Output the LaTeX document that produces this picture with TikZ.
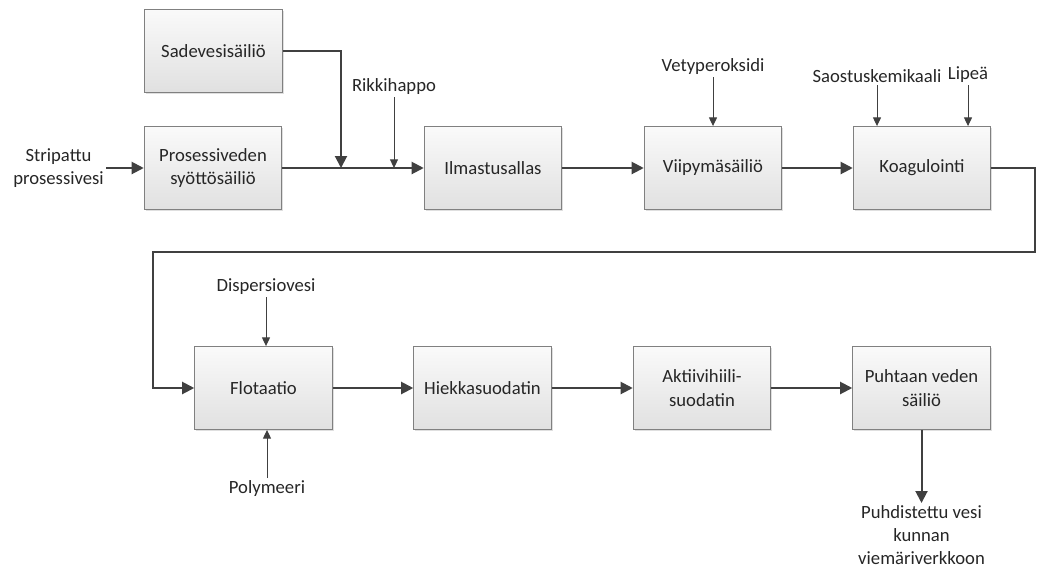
\documentclass[tikz,border=0pt]{standalone}
\usepackage{fontspec}
\setmainfont{Carlito}
\usetikzlibrary{arrows.meta,shadows}

\begin{document}
\begin{tikzpicture}[x=0.75pt, y=-0.75pt,
  box/.style={draw=black!50, line width=0.9pt, top color=black!2, bottom color=black!12,
    drop shadow={shadow xshift=1.2pt, shadow yshift=-1.2pt, opacity=0.25},
    minimum width=103pt, minimum height=62pt, align=center, inner sep=2pt,
    font=\fontsize{14}{17.5}\selectfont, text=black!85},
  lbl/.style={inner sep=1.5pt, align=center, font=\fontsize{14}{17.5}\selectfont, text=black!85},
  flow/.style={draw=black!75, line width=1.5pt, -{Triangle[length=9pt,width=9pt]}},
  feed/.style={draw=black!75, line width=0.75pt, -{Triangle[length=6.5pt,width=6pt]}}]
\useasboundingbox (0,0) rectangle (1038,572);

% upper row
\node[box] (sade) at (213.5,51) {Sadevesisäiliö};
\node[box] (syotto) at (213,168) {Prosessiveden\\syöttösäiliö};
\node[box] (ilma) at (493,168) {Ilmastusallas};
\node[box] (viipy) at (713,168) {Viipymäsäiliö};
\node[box] (koag) at (922,168) {Koagulointi};

% lower row
\node[box] (flot) at (263.5,388) {Flotaatio};
\node[box] (hiekka) at (482.5,388) {Hiekkasuodatin};
\node[box] (aktiivi) at (702,388) {Aktiivihiili-\\suodatin};
\node[box] (puhdas) at (921.5,388) {Puhtaan veden\\säiliö};

% inputs and output
\node[lbl, anchor=east] (strip) at (106,168) {Stripattu\\prosessivesi};
\node[lbl, anchor=south] (rikki) at (394,97) {Rikkihappo};
\node[lbl, anchor=south] (vety) at (713,77) {Vetyperoksidi};
\node[lbl, anchor=south] (saostus) at (877,85) {Saostuskemikaali};
\node[lbl, anchor=south] (lipea) at (968,85) {Lipeä};
\node[lbl, anchor=south] (disp) at (266,297) {Dispersiovesi};
\node[lbl, anchor=north] (poly) at (267,478) {Polymeeri};
\node[lbl, anchor=north] (puhd) at (921.5,503) {Puhdistettu vesi\\kunnan\\viemäriverkkoon};

\coordinate (liitos) at (341,168);
\coordinate (kaanto) at (1035,252);
\coordinate (paluu) at (153,252);

\draw[flow] (strip.east) -- (syotto.west);
\draw[flow] (sade.east) -| (liitos);
\foreach \a/\b in {syotto/ilma, ilma/viipy, viipy/koag, flot/hiekka, hiekka/aktiivi, aktiivi/puhdas}
{
    \draw[flow] (\a.east) -- (\b.west);
}
\draw[flow] (koag.east) -| (kaanto) -- (paluu) |- (flot.west);
\draw[flow] (puhdas.south) -- (puhd.north);

\draw[feed] (rikki.south) -- (rikki.south |- syotto.east);
\draw[feed] (vety.south) -- (vety.south |- viipy.north);
\draw[feed] (saostus.south) -- (saostus.south |- koag.north);
\draw[feed] (lipea.south) -- (lipea.south |- koag.north);
\draw[feed] (disp.south) -- (disp.south |- flot.north);
\draw[feed] (poly.north) -- (poly.north |- flot.south);
\end{tikzpicture}
\end{document}
